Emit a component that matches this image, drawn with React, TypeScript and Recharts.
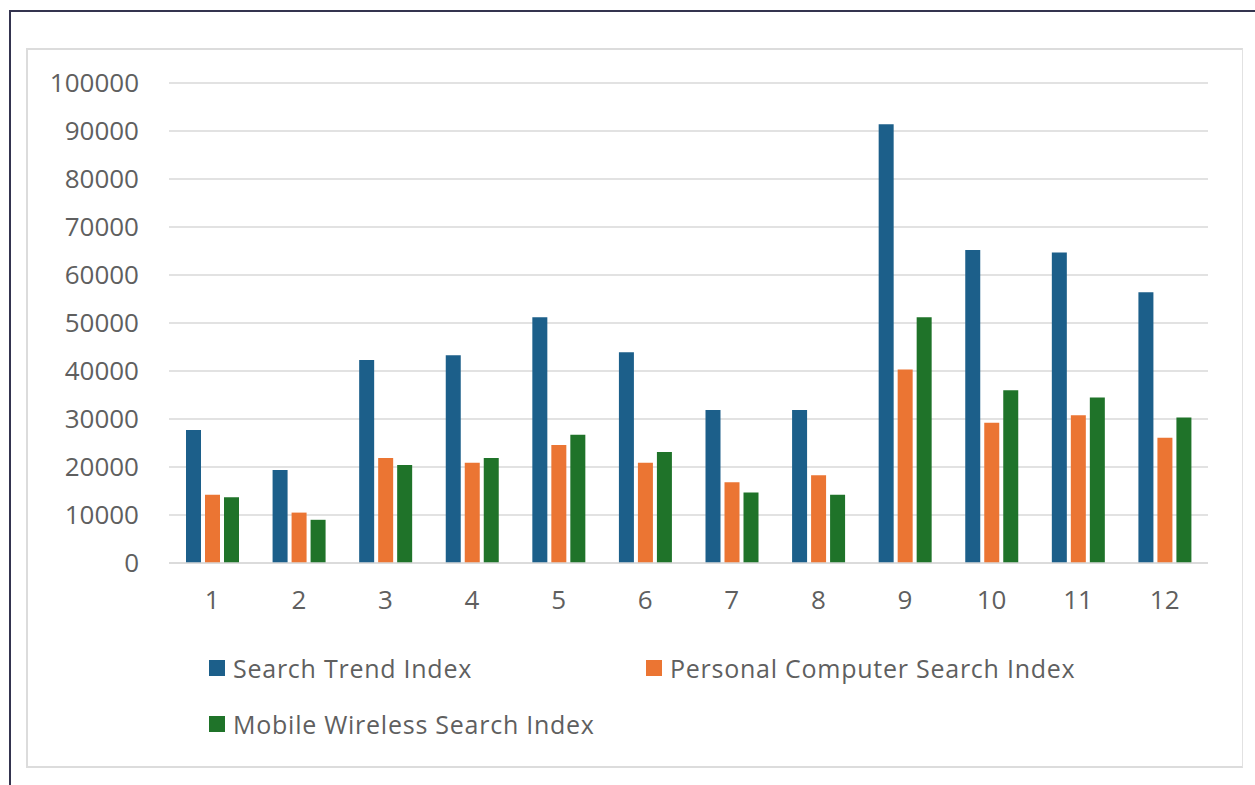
import React from 'react';
import { Bar, BarChart, CartesianGrid, XAxis, YAxis } from 'recharts';

const months = ['1', '2', '3', '4', '5', '6', '7', '8', '9', '10', '11', '12'];
const trendIndex = [27700, 19400, 42300, 43300, 51200, 43900, 31900, 31900, 91400, 65200, 64700, 56400];
const pcIndex = [14200, 10500, 21900, 20900, 24600, 20900, 16800, 18300, 40300, 29200, 30800, 26100];
const mobileIndex = [13700, 9000, 20400, 21900, 26700, 23100, 14700, 14200, 51200, 36000, 34500, 30300];
const yTicks = [0, 10000, 20000, 30000, 40000, 50000, 60000, 70000, 80000, 90000, 100000];

const BLUE = '#1c5f8a';
const ORANGE = '#eb7533';
const GREEN = '#1f7329';
const TEXT = '#5f5f5f';
const FONT = '"Open Sans", "Noto Sans", sans-serif';

const data = months.map((m, i) => ({
  month: m,
  trend: trendIndex[i],
  pc: pcIndex[i],
  mobile: mobileIndex[i],
}));

const legendItems = [
  { label: 'Search Trend Index', color: BLUE, left: 209, top: 660 },
  { label: 'Personal Computer Search Index', color: ORANGE, left: 646, top: 660 },
  { label: 'Mobile Wireless Search Index', color: GREEN, left: 209, top: 716 },
];

export default function App() {
  return (
    <div style={{ position: 'relative', width: 1255, height: 785, background: '#fff', overflow: 'hidden' }}>
      <style>{'body { margin: 0; }'}</style>

      {/* outer frame */}
      <div
        style={{
          position: 'absolute',
          left: 9,
          top: 10,
          right: 0,
          bottom: 0,
          borderTop: '2px solid #34344f',
          borderLeft: '2px solid #34344f',
        }}
      />
      {/* chart area box */}
      <div
        style={{
          position: 'absolute',
          left: 26,
          top: 48,
          width: 1214,
          height: 716,
          border: '2px solid #dcdcdc',
          borderRight: '1px solid #e2e2e2',
        }}
      />

      <div style={{ position: 'absolute', left: 0, top: 0 }}>
        <BarChart
          width={1255}
          height={785}
          data={data}
          margin={{ top: 83, right: 47, bottom: 192, left: 0 }}
          barSize={15}
          barGap={4}
        >
          <CartesianGrid stroke="#d9d9d9" strokeWidth={1.5} vertical={false} />
          <XAxis
            dataKey="month"
            height={30}
            tickLine={false}
            axisLine={{ stroke: '#d9d9d9', strokeWidth: 1.5 }}
            tickMargin={22}
            tick={{ fill: TEXT, fontSize: 26, fontFamily: FONT }}
          />
          <YAxis
            width={169}
            domain={[0, 100000]}
            ticks={yTicks}
            interval={0}
            tickLine={false}
            axisLine={false}
            tickMargin={24}
            tick={{ fill: TEXT, fontSize: 26, fontFamily: FONT }}
          />
          <Bar dataKey="trend" fill={BLUE} isAnimationActive={false} />
          <Bar dataKey="pc" fill={ORANGE} isAnimationActive={false} />
          <Bar dataKey="mobile" fill={GREEN} isAnimationActive={false} />
        </BarChart>
      </div>

      {legendItems.map((item) => (
        <div
          key={item.label}
          style={{
            position: 'absolute',
            left: item.left,
            top: item.top - 6,
            height: 28,
            display: 'flex',
            alignItems: 'center',
            fontFamily: FONT,
            fontSize: 25,
            letterSpacing: 0.75,
            color: TEXT,
            whiteSpace: 'nowrap',
          }}
        >
          <span style={{ display: 'inline-block', width: 16, height: 16, background: item.color, marginRight: 8 }} />
          {item.label}
        </div>
      ))}
    </div>
  );
}
